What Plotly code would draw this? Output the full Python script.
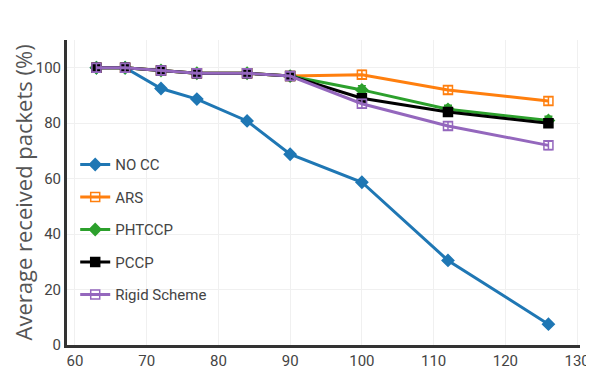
import plotly.graph_objects as go

x_vals = [63, 67, 72, 77, 84, 90, 100, 112, 126]
no_cc = [100, 100, 92.5, 88.7, 80.8, 68.8, 58.7, 30.5, 7.5]
ars = [100, 100, 99, 98, 98, 97, 97.5, 92, 88]
phtccp = [100, 100, 99, 98, 98, 97, 92, 85, 81]
pccp = [100, 100, 99, 98, 98, 97, 89, 84, 80]
rigid = [100, 100, 99, 98, 98, 97, 87, 79, 72]

series = [
    ("NO CC", no_cc, "#1f77b4", "diamond"),
    ("ARS", ars, "#ff7f0e", "square-open"),
    ("PHTCCP", phtccp, "#2ca02c", "diamond"),
    ("PCCP", pccp, "#000000", "square"),
    ("Rigid Scheme", rigid, "#9467bd", "square-open"),
]

FONT = "Roboto, Open Sans, sans-serif"

fig = go.Figure()
for i, (name, vals, color, sym) in enumerate(series):
    fig.add_trace(go.Scatter(
        x=x_vals, y=vals, name=name, mode="lines+markers",
        line=dict(color=color, width=3),
        marker=dict(symbol=sym, size=9, color=color, line=dict(color=color, width=1.5)),
        error_y=dict(type="constant", value=1.5, color=color, thickness=1.5, width=4,
                     visible=(name != "NO CC")),
        legendgroup=f"g{i}",
    ))

# page body has an 8px margin, so the figure is sized to fit the window
fig.update_layout(
    width=586, height=369,
    margin=dict(l=59, r=14, t=32, b=32, autoexpand=False),
    paper_bgcolor="white", plot_bgcolor="white",
    font=dict(family=FONT, size=15, color="#444"),
    showlegend=True,
    legend=dict(x=0.016, y=0.645, xanchor="left", yanchor="top",
                bgcolor="rgba(0,0,0,0)", font=dict(family=FONT, size=15, color="#444"),
                tracegroupgap=10, traceorder="grouped"),
    xaxis=dict(range=[58.9, 130.4], tickvals=[60, 70, 80, 90, 100, 110, 120, 130],
               showgrid=True, gridcolor="#f0f0f0", zeroline=False, automargin=False,
               showline=True, linecolor="#333", linewidth=3,
               tickfont=dict(family=FONT, size=15, color="#444"), ticks=""),
    yaxis=dict(range=[0, 110], tickvals=[0, 20, 40, 60, 80, 100],
               showgrid=True, gridcolor="#f0f0f0", zeroline=False, automargin=False,
               showline=True, linecolor="#333", linewidth=3,
               tickfont=dict(family=FONT, size=15, color="#444"), ticks=""),
    annotations=[dict(
        text="Average received packets (%)", textangle=-90,
        xref="paper", yref="paper", x=-0.0858, y=0.5,
        xanchor="center", yanchor="middle", showarrow=False, borderpad=0,
        font=dict(family="Open Sans, sans-serif", size=22, color="#555"),
    )],
)

fig.write_html("out.html")
